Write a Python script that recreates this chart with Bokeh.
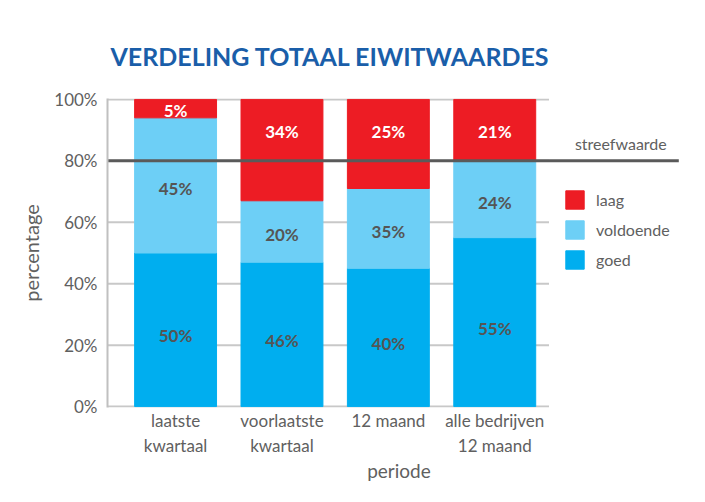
from bokeh.plotting import figure
from bokeh.models import Range1d, FixedTicker, Legend, LegendItem, ColumnDataSource, PrintfTickFormatter
from bokeh.core.properties import value
from bokeh.embed import file_html
from bokeh.resources import INLINE

# ---- data ----
categories = ["laatste\nkwartaal", "voorlaatste\nkwartaal", "12 maand", "alle bedrijven\n12 maand"]
goed = [50, 47, 45, 55]
voldoende = [44, 20, 26, 25]
laag = [6, 33, 29, 20]
goed_labels = ["50%", "46%", "40%", "55%"]
voldoende_labels = ["45%", "20%", "35%", "24%"]
laag_labels = ["5%", "34%", "25%", "21%"]
y_ticks = [0, 20, 40, 60, 80, 100]
streefwaarde = 80

# ---- style ----
FONT = "Lato"
C_GOED = "#00aeef"
C_VOLD = "#6dcff6"
C_LAAG = "#ed1c24"
GREY_TXT = "#606060"
GRID = "#c8c8c8"

x_left, x_right = -0.64, 4.84
grid_right = 3.51
line_right = 4.73

xs = list(range(len(categories)))
src = ColumnDataSource(dict(x=xs, goed=goed, voldoende=voldoende, laag=laag))

p = figure(width=705, height=502, x_range=Range1d(x_left, x_right), y_range=Range1d(-0.3, 100.3),
           output_backend="svg", toolbar_location=None,
           min_border_left=107, min_border_right=15, min_border_top=98, min_border_bottom=95)
p.outline_line_color = None
p.xgrid.visible = False
p.ygrid.visible = False

# title
p.title.text = "VERDELING TOTAAL EIWITWAARDES"
p.title.text_font = FONT
p.title.text_font_size = "25px"
p.title.text_font_style = "bold"
p.title.text_color = "#1a5ea9"
p.title.align = "left"
p.title.offset = 3
p.title.standoff = 56

# grid lines
p.segment(x0=[x_left] * len(y_ticks), x1=[grid_right] * len(y_ticks), y0=y_ticks, y1=y_ticks,
          line_color=GRID, line_width=2)

# bars
rs = p.vbar_stack(["goed", "voldoende", "laag"], x="x", width=0.77, source=src,
                  color=[C_GOED, C_VOLD, C_LAAG])

# streefwaarde line
p.segment(x0=[x_left], x1=[line_right], y0=[streefwaarde], y1=[streefwaarde],
          line_color="#5a5a5a", line_width=3)
p.text(x=[4.185], y=[85.5], text=["streefwaarde"], text_font=value(FONT), text_font_size="16px",
       text_color=GREY_TXT, text_align="center", text_baseline="middle")

# bar labels
gy, vy, ly = [], [], []
for g, v, l in zip(goed, voldoende, laag):
    gy.append(g / 2 - 2)
    vy.append(g + v / 2 - 1)
    lo = max(g + v, streefwaarde)
    ly.append((lo + 100) / 2 - 0.5)
for ys, labs, col in ((gy, goed_labels, "#555555"), (vy, voldoende_labels, "#555555"), (ly, laag_labels, "white")):
    p.text(x=xs, y=ys, text=labs, text_font=value(FONT), text_font_size="17px", text_font_style="bold",
           text_color=col, text_align="center", text_baseline="middle")

# axes
p.yaxis.ticker = FixedTicker(ticks=y_ticks)
p.yaxis.formatter = PrintfTickFormatter(format="%d%%")
p.yaxis.major_tick_line_color = None
p.yaxis.minor_tick_line_color = None
p.yaxis.axis_line_color = "#c0c0c0"
p.yaxis.axis_line_width = 2
p.yaxis.major_label_text_font = FONT
p.yaxis.major_label_text_font_size = "17px"
p.yaxis.major_label_text_color = GREY_TXT
p.yaxis.major_label_standoff = 4
p.yaxis.axis_label = "percentage"
p.yaxis.axis_label_text_font = FONT
p.yaxis.axis_label_text_font_size = "20px"
p.yaxis.axis_label_text_font_style = "normal"
p.yaxis.axis_label_text_color = GREY_TXT
p.yaxis.axis_label_standoff = 8

p.xaxis.ticker = FixedTicker(ticks=xs)
p.xaxis.major_label_overrides = {i: c for i, c in zip(xs, categories)}
p.xaxis.axis_line_color = None
p.xaxis.major_tick_line_color = None
p.xaxis.minor_tick_line_color = None
p.xaxis.major_label_text_font = FONT
p.xaxis.major_label_text_font_size = "17px"
p.xaxis.major_label_text_color = GREY_TXT
p.xaxis.major_label_standoff = -4
p.xaxis.axis_label = "periode"
p.xaxis.axis_label_text_font = FONT
p.xaxis.axis_label_text_font_size = "19px"
p.xaxis.axis_label_text_font_style = "normal"
p.xaxis.axis_label_text_color = GREY_TXT
p.xaxis.axis_label_standoff = 0

# legend
legend = Legend(items=[LegendItem(label="laag", renderers=[rs[2]]),
                       LegendItem(label="voldoende", renderers=[rs[1]]),
                       LegendItem(label="goed", renderers=[rs[0]])],
                location=(456, 136), glyph_width=23, glyph_height=23, label_height=23,
                spacing=7, padding=0, margin=0, label_standoff=10,
                label_text_font=FONT, label_text_font_size="16px", label_text_color=GREY_TXT,
                border_line_color=None, background_fill_alpha=0)
p.add_layout(legend, "center")

open("out.html", "w").write(file_html(p, INLINE))
